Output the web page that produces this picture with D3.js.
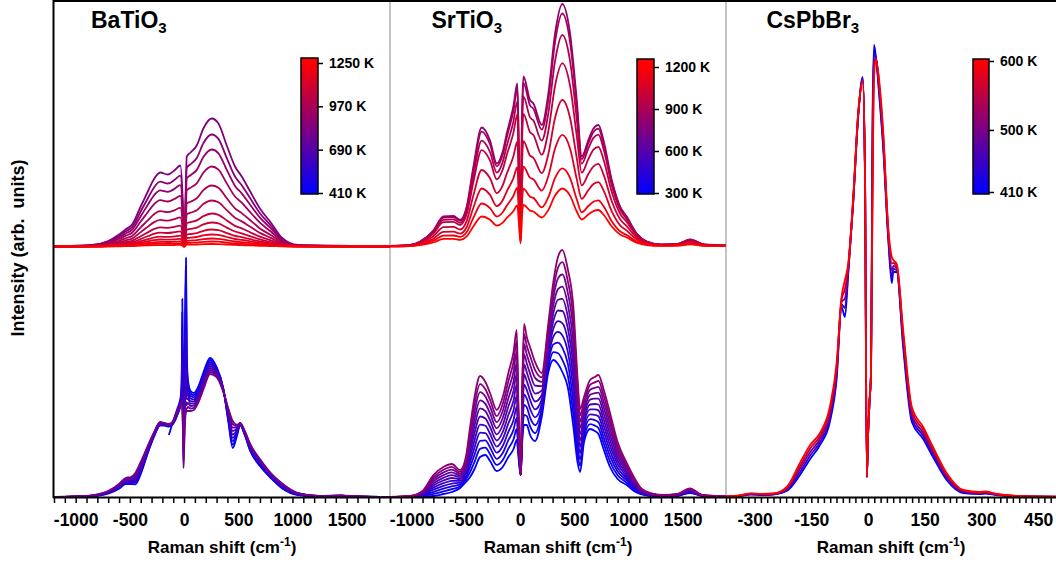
<!DOCTYPE html>
<html><head><meta charset="utf-8">
<script src="https://cdn.jsdelivr.net/npm/d3@7"></script>
<style>
body{margin:0;background:#fff;}
svg{display:block;font-family:"Liberation Sans",Arial,Helvetica,sans-serif;}
</style></head><body>
<svg id="chart" width="1056" height="566"></svg>
<script>
// ---------------- DATA (arbitrary intensity units) ----------------
// BaTiO3, upper stack (high temperatures)
const baUpX = [-1200,-850,-700,-600,-540,-480,-400,-330,-280,-220,-150,-90,-35,-12,-4,4,14,25,60,117,178,255,317,394,470,532,600,700,800,900,1050,1400,1900];
const baUpT = [830,865,900,935,970,1005,1040,1075,1110,1145,1180,1215,1250];
const baUp = [
 [0,1.5,5.5,12,17,22,40,56,67,74,72,76,81,45,2,2,50,90,94,101,118,128,123,101,80,70,57,38,24,9,1.5,0.8,0],
 [0,1.3,4.8,10.5,14.9,19.3,35,49,58.6,64.8,63,66.5,70.9,39.4,1.8,1.8,43.8,78.8,82.3,88.4,103.3,112,107.6,88.4,70,61.3,49.9,33.3,21,7.9,1.3,0.7,0],
 [0,1.1,4.2,9.1,12.9,16.7,30.3,42.4,50.8,56.1,54.6,57.6,61.4,34.1,1.5,1.5,37.9,68.2,71.3,76.6,89.4,97,93.2,76.6,60.6,53.1,43.2,28.8,18.2,6.8,1.1,0.6,0],
 [0,0.9,3.4,7.5,10.6,13.8,25,35,41.9,46.3,45,47.5,50.6,28.1,1.3,1.3,31.3,56.3,58.8,63.1,73.8,80,76.9,63.1,50,43.8,35.6,23.8,15,5.6,0.9,0.5,0],
 [0,0.7,2.6,5.7,8.1,10.5,19.1,26.7,32,35.3,34.3,36.2,38.6,21.5,1,1,23.9,42.9,44.8,48.2,56.3,61,58.7,48.2,38.2,33.4,27.2,18.1,11.4,4.3,0.7,0.4,0],
 [0,0.5,2,4.3,6.1,7.9,14.4,20.1,24.1,26.6,25.8,27.3,29.1,16.2,0.7,0.7,18,32.3,33.8,36.3,42.4,46,44.2,36.3,28.7,25.1,20.5,13.6,8.6,3.2,0.5,0.3,0],
 [0,0.4,1.4,3.1,4.4,5.7,10.3,14.4,17.3,19.1,18.6,19.6,20.9,11.6,0.5,0.5,12.9,23.2,24.3,26.1,30.4,33,31.7,26.1,20.6,18.1,14.7,9.8,6.2,2.3,0.4,0.2,0],
 [0,0.3,1,2.3,3.2,4.1,7.5,10.5,12.6,13.9,13.5,14.3,15.2,8.4,0.4,0.4,9.4,16.9,17.6,18.9,22.1,24,23.1,18.9,15,13.1,10.7,7.1,4.5,1.7,0.3,0.2,0],
 [0,0.2,0.7,1.6,2.3,2.9,5.3,7.4,8.9,9.8,9.6,10.1,10.8,6,0.3,0.3,6.7,12,12.5,13.4,15.7,17,16.4,13.4,10.6,9.3,7.6,5.1,3.2,1.2,0.2,0.1,0],
 [0,0.1,0.5,1.1,1.6,2.1,3.8,5.3,6.3,7,6.8,7.1,7.6,4.2,0.2,0.2,4.7,8.5,8.8,9.5,11.1,12,11.6,9.5,7.5,6.6,5.4,3.6,2.3,0.8,0.1,0.1,0],
 [0,0.1,0.3,0.8,1.1,1.4,2.5,3.5,4.2,4.6,4.5,4.8,5.1,2.8,0.1,0.1,3.1,5.6,5.9,6.3,7.4,8,7.7,6.3,5,4.4,3.6,2.4,1.5,0.6,0.1,0,0],
 [0,0,0.2,0.5,0.7,0.9,1.6,2.2,2.6,2.9,2.8,3,3.2,1.8,0.1,0.1,2,3.5,3.7,3.9,4.6,5,4.8,3.9,3.1,2.7,2.2,1.5,0.9,0.4,0.1,0,0],
 [0,0,0.1,0.2,0.3,0.4,0.8,1.1,1.3,1.4,1.4,1.5,1.6,0.9,0,0,1,1.8,1.8,2,2.3,2.5,2.4,2,1.6,1.4,1.1,0.7,0.5,0.2,0,0,0]
];
// BaTiO3, lower stack (low temperatures)
const baLoX = [-1200,-900,-800,-700,-600,-540,-490,-450,-400,-340,-280,-221,-180,-140,-100,-60,-35,-22,-16,-10,-5,0,6,12,18,24,35,60,90,130,180,240,300,363,410,449,490,517,560,610,700,800,900,1050,1250,1450,1600,1900];
const baLoT = [410,457,505,552,600,647,695,742,790];
const N = null;
const baLo = [
 [N,N,N,N,N,N,N,N,N,N,N,N,N,62,76,89,98,110,198,110,100,105,140,200,239,150,118,106,104,110,125,139,130,108,74,49,62,72,62,46,31,19,9,2,0.5,1,0.3,0],
 [0,0.6,1.2,3.4,8.2,12.9,13,12.6,22.8,42.1,59.6,71.5,71.4,70.4,73.4,82.6,92,115,185,105,95,100,132,190,225,142,114,103.5,101.9,108,122.9,137,128.8,107.6,75.8,52.4,63.3,72.3,62.5,46.9,31.9,19.6,9.6,2.3,0.6,1.1,0.3,0],
 [0,0.6,1.4,3.8,8.9,13.8,14,14.3,24.5,43.3,60.3,72,71.8,70.8,73.8,83.3,92,110,165,100,88,95,122,170,200,130,110,101,99.8,106,120.8,135,127.5,107.3,77.5,55.8,64.5,72.5,63,47.8,32.8,20.3,10.3,2.5,0.6,1.1,0.4,0],
 [0,0.7,1.6,4.1,9.6,14.6,15,15.9,26.3,44.4,60.9,72.5,72.1,71.1,74.1,83.9,92,106,140,95,80,88,112,145,165,118,106,98.5,97.6,104,118.6,133,126.3,106.9,79.3,59.1,65.8,72.8,63.5,48.6,33.6,20.9,10.9,2.8,0.7,1.2,0.4,0],
 [0,0.8,1.8,4.5,10.3,15.5,16,17.5,28,45.5,61.5,73,72.5,71.5,74.5,84.5,92,102,115,88,68,78,100,118,130,108,102,96,95.5,102,116.5,131,125,106.5,81,62.5,67,73,64,49.5,34.5,21.5,11.5,3,0.8,1.3,0.4,0],
 [0,0.8,1.9,4.9,10.9,16.4,17,19.1,29.8,46.6,62.1,73.5,72.9,71.9,74.9,85.1,92,99,100,80,55,68,90,100,105,98,98,93.5,93.4,100,114.4,129,123.8,106.1,82.8,65.9,68.3,73.3,64.5,50.4,35.4,22.1,12.1,3.3,0.8,1.3,0.4,0],
 [0,0.9,2.1,5.3,11.6,17.3,18,20.8,31.5,47.8,62.8,74,73.3,72.3,75.3,85.8,92,97,95,72,45,58,82,90,95,92,94,91,91.3,98,112.3,127,122.5,105.8,84.5,69.3,69.5,73.5,65,51.3,36.3,22.8,12.8,3.5,0.9,1.4,0.5,0],
 [0,0.9,2.3,5.6,12.3,18.1,19,22.4,33.3,48.9,63.4,74.5,73.6,72.6,75.6,86.4,92,95,92,66,36,50,75,84,88,88,90,88.5,89.1,96,110.1,125,121.3,105.4,86.3,72.6,70.8,73.8,65.5,52.1,37.1,23.4,13.4,3.8,0.9,1.4,0.5,0],
 [0,1,2.5,6,13,19,20,24,35,50,64,75,74,73,76,87,92,94,90,60,29,45,70,80,85,86,86,86,87,94,108,123,120,105,88,76,72,74,66,53,38,24,14,4,1,1.5,0.5,0]
];
// SrTiO3, upper stack
const srUpX = [-1200,-1015,-922,-800,-707,-615,-553,-492,-430,-354,-277,-215,-160,-123,-62,-25,-10,5,18,31,92,123,200,261,323,390,461,523,569,630,677,723,769,846,923,984,1076,1169,1300,1450,1570,1700,1900];
const srUpT = [820,870,920,970,1020,1080,1140,1200];
const srUp = [
 [0.5,1.5,5,16,30,30.5,26.5,40,80,119,106,83,95,113,140,163,90,13,130,170,146.5,143,121.5,153,213,242.5,213,146.5,90,106.5,118,121.5,106.5,66.5,40,30,13,5,2,2.5,7,2,1],
 [0.5,1.4,4.8,15.4,29,29.4,25.6,38.6,77.2,114.8,102.3,80.1,91.7,109,135.1,157.3,86.7,12.5,125.2,163.7,141.1,137.7,116.8,147,204.7,233,204.7,140.8,87.3,103.3,114.5,117.9,103.3,64.5,38.8,29.1,12.6,4.9,1.9,2.4,6.8,1.9,1],
 [0.4,1.3,4.5,14.2,26.7,27.1,23.6,35.6,71.2,105.9,94.3,73.9,84.6,100.6,124.6,145.1,79.3,11.5,114.5,149.8,129.1,126,105.9,133.4,185.7,211.5,185.7,127.7,82.8,98,108.6,111.8,98,61.2,36.8,27.6,12,4.6,1.8,2.3,6.4,1.8,0.9],
 [0.4,1.2,4.1,13,24.3,24.7,21.5,32.4,64.8,96.4,85.9,67.2,77,91.5,113.4,132,70.2,10.1,101.4,132.6,114.3,111.5,91.7,115.5,160.8,183.1,160.8,110.6,73.8,87.3,96.8,99.6,87.3,54.5,32.8,24.6,10.7,4.1,1.6,2.1,5.7,1.6,0.8],
 [0.3,1,3.2,10.3,19.3,19.6,17,25.7,51.4,76.5,68.2,53.4,61.1,72.7,90,104.8,55.8,8.1,80.6,105.4,90.8,88.7,73.4,92.4,128.7,146.5,128.7,88.5,61.2,72.4,80.2,82.6,72.4,45.2,27.2,20.4,8.8,3.4,1.4,1.7,4.8,1.4,0.7],
 [0.2,0.7,2.4,7.8,14.6,14.9,12.9,19.5,39,58,51.6,40.4,46.3,55,68.2,79.4,42.3,6.1,61.1,79.9,68.9,67.2,55.9,70.4,98,111.6,98,67.4,47.7,56.4,62.5,64.4,56.4,35.2,21.2,15.9,6.9,2.7,1.1,1.3,3.7,1.1,0.5],
 [0.2,0.5,1.8,5.8,10.8,11,9.6,14.4,28.9,43,38.3,30,34.3,40.8,50.5,58.8,30.6,4.4,44.2,57.8,49.8,48.6,39.1,49.3,68.6,78.1,68.6,47.2,34.2,40.5,44.8,46.2,40.5,25.3,15.2,11.4,4.9,1.9,0.8,1,2.7,0.8,0.4],
 [0.1,0.4,1.3,4,7.6,7.7,6.7,10.1,20.2,30,26.7,20.9,23.9,28.5,35.3,41.1,22.1,3.2,31.9,41.7,35.9,35,29,36.6,50.9,58,50.9,35,27,32,35.4,36.5,32,20,12,9,3.9,1.5,0.6,0.8,2.1,0.6,0.3]
];
// SrTiO3, lower stack
const srLoX = [-1200,-1015,-900,-800,-707,-630,-553,-500,-461,-420,-369,-320,-277,-215,-160,-108,-60,-31,-15,-6,6,20,37,62,92,138,200,261,307,350,390,440,492,530,554,590,646,690,723,770,830,900,984,1050,1107,1200,1322,1450,1568,1680,1900];
const srLoT = [300,350,400,450,500,550,600,650,700,750,800];
const srLo = [
 [0,0,0.5,1,3,5,9,15,20,28,40,42,36,26,30,40,48,57,40,30,22,55,72,72,62,56,80,125,137,133,125,110,70,35,25,55,68,66,63,48,30,18,12,6,3,1,0.5,1,4,1,0],
 [0,0.1,1.1,3.1,5.7,7.8,10.8,17.5,25,35.2,48.1,49.3,42.8,32.1,37,48.4,57.7,68,45,32.5,22,60.5,82.1,80.8,70.8,63.9,84.4,129.9,144.8,143.7,137.2,121.8,82,43.5,31.3,59.5,72.9,71.4,68.9,54,35.4,21.7,14.2,7.4,3.7,1.3,0.7,1.2,4.5,1.1,0.1],
 [0,0.2,1.6,5.2,8.4,10.6,12.6,20,30,42.4,56.2,56.6,49.6,38.2,44,56.8,67.4,79,50,35,22,66,92.2,89.6,79.6,71.8,88.8,134.8,152.6,154.4,149.4,133.6,94,52,37.6,64,77.8,76.8,74.8,60,40.8,25.4,16.4,8.8,4.4,1.6,0.8,1.4,4.9,1.2,0.1],
 [0,0.3,2.2,7.3,11.1,13.4,14.4,22.5,35,49.6,64.3,63.9,56.4,44.3,51,65.2,77.1,90,55,37.5,22,71.5,102.3,98.4,88.4,79.7,93.2,139.7,160.4,165.1,161.6,145.4,106,60.5,43.9,68.5,82.7,82.2,80.7,66,46.2,29.1,18.6,10.2,5.1,1.9,1,1.6,5.4,1.3,0.2],
 [0,0.4,2.7,9.4,13.8,16.2,16.2,25,40,56.8,72.4,71.2,63.2,50.4,58,73.6,86.8,101,60,40,22,77,112.4,107.2,97.2,87.6,97.6,144.6,168.2,175.8,173.8,157.2,118,69,50.2,73,87.6,87.6,86.6,72,51.6,32.8,20.8,11.6,5.8,2.2,1.1,1.8,5.9,1.4,0.2],
 [0,0.5,3.3,11.5,16.5,19,18,27.5,45,64,80.5,78.5,70,56.5,65,82,96.5,112,65,42.5,22,82.5,122.5,116,106,95.5,102,149.5,176,186.5,186,169,130,77.5,56.5,77.5,92.5,93,92.5,78,57,36.5,23,13,6.5,2.5,1.3,2,6.4,1.5,0.3],
 [0,0.6,3.8,13.6,19.2,21.8,19.8,30,50,71.2,88.6,85.8,76.8,62.6,72,90.4,106.2,123,70,45,22,88,132.6,124.8,114.8,103.4,106.4,154.4,183.8,197.2,198.2,180.8,142,86,62.8,82,97.4,98.4,98.4,84,62.4,40.2,25.2,14.4,7.2,2.8,1.4,2.2,6.8,1.6,0.3],
 [0,0.7,4.4,15.7,21.9,24.6,21.6,32.5,55,78.4,96.7,93.1,83.6,68.7,79,98.8,115.9,134,75,47.5,22,93.5,142.7,133.6,123.6,111.3,110.8,159.3,191.6,207.9,210.4,192.6,154,94.5,69.1,86.5,102.3,103.8,104.3,90,67.8,43.9,27.4,15.8,7.9,3.1,1.6,2.4,7.3,1.7,0.4],
 [0,0.8,4.9,17.8,24.6,27.4,23.4,35,60,85.6,104.8,100.4,90.4,74.8,86,107.2,125.6,145,80,50,22,99,152.8,142.4,132.4,119.2,115.2,164.2,199.4,218.6,222.6,204.4,166,103,75.4,91,107.2,109.2,110.2,96,73.2,47.6,29.6,17.2,8.6,3.4,1.7,2.6,7.8,1.8,0.4],
 [0,0.9,5.5,19.9,27.3,30.2,25.2,37.5,65,92.8,112.9,107.7,97.2,80.9,93,115.6,135.3,156,85,52.5,22,104.5,162.9,151.2,141.2,127.1,119.6,169.1,207.2,229.3,234.8,216.2,178,111.5,81.7,95.5,112.1,114.6,116.1,102,78.6,51.3,31.8,18.6,9.3,3.7,1.9,2.8,8.2,1.9,0.5],
 [0,1,6,22,30,33,27,40,70,100,121,115,104,87,100,124,145,167,90,55,22,110,173,160,150,135,124,174,215,240,247,228,190,120,88,100,117,120,122,108,84,55,34,20,10,4,2,3,8.7,2,0.5]
];
// CsPbBr3
const csX = [-375,-340,-310,-280,-250,-215,-180,-153,-127,-101,-83,-70,-61,-52,-39,-26,-14,-8,-3,0,4,8,12,16,21,30,40,54,63,67,76,93,116,146,172,208,252,296,310,340,400,450,500];
const csT = [410,450,500,550,600];
const cs = [
 [0.3,1,2.5,2,2.5,6,22,38,52,75,118,190,180,225,295,380,420,320,20,60,95,125,380,452,440,400,350,255,214,225,225,150,75,58,40,17,4,3,3.5,2,0.5,0.3,0.2],
 [0.35,1.1,2.8,2.3,2.8,7,25,41.5,55,78.8,122,192.5,189,227,296,381,419,322.5,20,60,95,125,360,444,439,404,354,258,220.5,228,227,154,78.8,61,42.5,18.8,4.8,3.5,4,2.3,0.6,0.35,0.2],
 [0.4,1.3,3.1,2.5,3,8,28,45,58,82.5,126,195,198.5,229.5,297.5,382,417.5,325,20,60,95,125,340,436,438.5,407.5,358.5,261,227,231,229,158.5,82.5,64,45,20.5,5.5,4,4.5,2.5,0.8,0.4,0.25],
 [0.45,1.4,3.4,2.8,3.3,9,31,48.5,61,86.3,130,197.5,208,232,299,383,416,327.5,20,60,95,125,320,428,438,411,363,264,233.5,234,231,163,86.3,67,47.5,22.3,6.3,4.5,5,2.8,0.9,0.45,0.3],
 [0.5,1.5,3.7,3,3.5,10,34,52,64,90,134,200,217,234,300,384,415,330,20,60,95,125,300,420,437,415,367,267,240,237,233,167,90,70,50,24,7,5,5.5,3,1,0.5,0.3]
];
// axis tick labels and colour-bar ticks
const wideMajor = [-1000,-500,0,500,1000,1500];
const csMajor = [-300,-150,0,150,300,450];
const baBarTicks = [410,690,970,1250];
const srBarTicks = [300,600,900,1200];
const csBarTicks = [410,500,600];
const stackOffset = 250.5;

// ---------------- LAYOUT ----------------
const svg = d3.select("#chart");
const plotTop = 0, plotBottom = 497;
const ys = d3.scaleLinear().domain([0, 497]).range([plotBottom, plotTop]);

const panels = [
  {name:"BaTiO", x0:54, x1:390, domain:[-1200,1900], titleX:91,
   ticks:d3.range(-1200,1901,100), majors:wideMajor,
   groups:[{x:baLoX,s:baLo,t:baLoT,off:0},{x:baUpX,s:baUp,t:baUpT,off:stackOffset}],
   bar:{x:301,w:17,top:58,bot:194,tMin:410,tMax:1250,yMin:193,yMax:63,ticks:baBarTicks}},
  {name:"SrTiO", x0:390, x1:726, domain:[-1200,1900], titleX:431.5,
   ticks:d3.range(-1200,1901,100), majors:wideMajor,
   groups:[{x:srLoX,s:srLo,t:srLoT,off:0},{x:srUpX,s:srUp,t:srUpT,off:stackOffset}],
   bar:{x:637,w:17,top:59,bot:194,tMin:300,tMax:1200,yMin:193,yMax:67,ticks:srBarTicks}},
  {name:"CsPbBr", x0:726, x1:1056, domain:[-375.7,497.4], titleX:766.5,
   ticks:d3.range(-22,30).map(k=>k*150/9), majors:csMajor,
   groups:[{x:csX,s:cs,t:csT,off:0}],
   bar:{x:973,w:16,top:59,bot:194,tMin:410,tMax:600,yMin:192,yMax:61,ticks:csBarTicks}}
];

const defs = svg.append("defs");

// separators (grey)
[390,726].forEach(x=>{
  svg.append("line").attr("x1",x).attr("x2",x).attr("y1",plotTop).attr("y2",plotBottom)
    .attr("stroke","#c4c4c4").attr("stroke-width",2);
});

panels.forEach((p,pi)=>{
  const xs = d3.scaleLinear().domain(p.domain).range([p.x0,p.x1]);
  const col = d3.scaleLinear().domain([p.bar.tMin,p.bar.tMax]).range(["#0000ff","#ff0000"])
    .interpolate(d3.interpolateRgb).clamp(true);
  const g = svg.append("g");
  p.groups.forEach(gr=>{
    const line = d3.line().defined(d=>d[1]!==null)
      .x(d=>xs(d[0])).y(d=>ys(d[1]+gr.off)).curve(d3.curveMonotoneX);
    gr.s.forEach((ser,i)=>{
      g.append("path").attr("d", line(gr.x.map((v,j)=>[v,ser[j]])))
        .attr("fill","none").attr("stroke",col(gr.t[i]))
        .attr("stroke-width",1.8).attr("stroke-linejoin","round");
    });
  });

  // x axis
  const ax = d3.axisBottom(xs).tickValues(p.ticks).tickSize(6).tickPadding(11)
    .tickFormat(d=>{const m=p.majors.find(v=>Math.abs(v-d)<1e-6);return m===undefined?"":String(m);});
  const axg = svg.append("g").attr("transform",`translate(0,${plotBottom})`).call(ax);
  axg.select(".domain").remove();
  axg.selectAll(".tick line").attr("stroke","#000").attr("stroke-width",1.5);
  axg.selectAll(".tick text").attr("font-size",17.5).attr("font-weight","bold").attr("fill","#000")
    .attr("font-family","'Liberation Sans',Arial,sans-serif");

  // axis title
  const cx = (p.x0+p.x1)/2;
  const tt = svg.append("text").attr("x",cx).attr("y",553).attr("text-anchor","middle")
    .attr("font-size",17).attr("font-weight","bold");
  tt.append("tspan").text("Raman shift (cm");
  tt.append("tspan").attr("font-size",12).attr("dy",-7).text("-1");
  tt.append("tspan").attr("dy",7).text(")");

  // panel title
  const ti = svg.append("text").attr("x",p.titleX).attr("y",28).attr("font-size",23).attr("font-weight","bold");
  ti.append("tspan").text(p.name);
  ti.append("tspan").attr("font-size",15).attr("dy",4.5).text("3");

  // colour bar
  const b = p.bar;
  const cb = d3.scaleLinear().domain([b.tMin,b.tMax]).range([b.yMin,b.yMax]);
  const gid = "grad"+pi;
  const grad = defs.append("linearGradient").attr("id",gid).attr("gradientUnits","userSpaceOnUse")
    .attr("x1",0).attr("x2",0).attr("y1",b.bot).attr("y2",b.top);
  d3.range(0,21).forEach(k=>{
    const yy = b.bot + (b.top-b.bot)*k/20;
    grad.append("stop").attr("offset",k/20).attr("stop-color",col(cb.invert(yy)));
  });
  svg.append("rect").attr("x",b.x).attr("y",b.top).attr("width",b.w).attr("height",b.bot-b.top)
    .attr("fill",`url(#${gid})`).attr("stroke","#000").attr("stroke-width",1.5);
  const bax = d3.axisRight(cb).tickValues(b.ticks).tickSize(5).tickPadding(6).tickFormat(d=>d+" K");
  const bg = svg.append("g").attr("transform",`translate(${b.x+b.w},0)`).call(bax);
  bg.select(".domain").remove();
  bg.selectAll(".tick line").attr("stroke","#000").attr("stroke-width",1.5);
  bg.selectAll(".tick text").attr("font-size",14).attr("font-weight","bold").attr("fill","#000")
    .attr("font-family","'Liberation Sans',Arial,sans-serif");
});

// frame
svg.append("line").attr("x1",54).attr("x2",1056).attr("y1",1).attr("y2",1).attr("stroke","#000").attr("stroke-width",2);
svg.append("line").attr("x1",53.5).attr("x2",53.5).attr("y1",0).attr("y2",498).attr("stroke","#000").attr("stroke-width",2);
svg.append("line").attr("x1",53).attr("x2",1056).attr("y1",497.5).attr("y2",497.5).attr("stroke","#000").attr("stroke-width",2);

// y label
svg.append("text").attr("transform","translate(24,248) rotate(-90)").attr("text-anchor","middle")
  .attr("font-size",18).attr("font-weight","bold").text("Intensity (arb.\u00a0 units)");
</script></body></html>
